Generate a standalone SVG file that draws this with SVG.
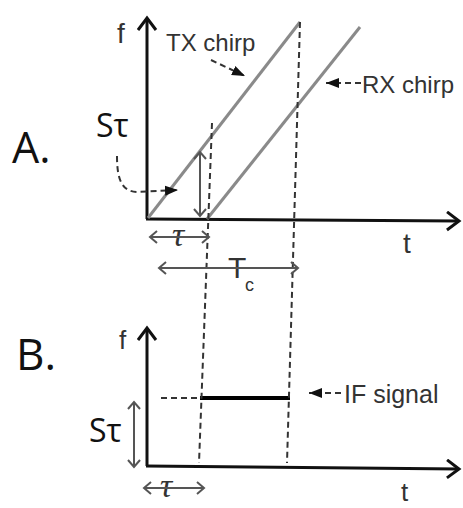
<svg xmlns="http://www.w3.org/2000/svg" width="463" height="508" viewBox="0 0 463 508">
<style>
.axis{stroke:#111;stroke-width:3;fill:none}
.chirp{stroke:#8a8a8a;stroke-width:3;fill:none}
.dash{stroke:#333;stroke-width:2;stroke-dasharray:6,4;fill:none}
.dim{stroke:#555;stroke-width:2;fill:none}
.lbl{font-family:"Liberation Sans",Arial,sans-serif;fill:#333}
.big{font-family:"Open Sans","Liberation Sans",sans-serif;fill:#111}
.tau{font-family:"Liberation Serif","DejaVu Serif",serif;font-style:italic;fill:#333}
.if{stroke:#000;stroke-width:4;fill:none}
</style>
<defs>
<marker id="ax" markerUnits="userSpaceOnUse" markerWidth="16" markerHeight="22" refX="13" refY="10" orient="auto">
<path d="M1,1 L13,10 L1,19" fill="none" stroke="#111" stroke-width="3"/>
</marker>
<marker id="ch" markerUnits="userSpaceOnUse" markerWidth="10" markerHeight="14" refX="8" refY="7" orient="auto-start-reverse">
<path d="M1,1 L8,7 L1,13" fill="none" stroke="#555" stroke-width="2"/>
</marker>
<marker id="fill" markerUnits="userSpaceOnUse" markerWidth="14" markerHeight="12" refX="13" refY="6" orient="auto">
<path d="M0,1 L13,6 L0,11 z" fill="#111"/>
</marker>
</defs>

<g id="panelA">
<g id="labelA"><text class="big" x="12" y="163" font-size="43">A.</text></g>
<g id="axesA">
<line class="axis" x1="147" y1="219" x2="147" y2="18" marker-end="url(#ax)"/>
<line class="axis" x1="146" y1="219" x2="459" y2="221" marker-end="url(#ax)"/>
<text class="lbl" x="117" y="43" font-size="28" fill="#222">f</text>
<text class="lbl" x="403" y="253" font-size="28" fill="#222">t</text>
</g>
<g id="txchirp">
<line class="chirp" x1="148" y1="218" x2="300" y2="22"/>
<text class="lbl" x="166" y="51" font-size="24">TX chirp</text>
</g>
<g id="rxchirp">
<line class="chirp" x1="207" y1="219" x2="360" y2="27"/>
<text class="lbl" x="362" y="93" font-size="24">RX chirp</text>
</g>
<g id="stauA">
<text class="big" x="96" y="137" font-size="32">Sτ</text>
</g>
<g id="tauA">
<text class="tau" x="172" y="246" font-size="34">τ</text>
</g>
<g id="TcA">
<text class="lbl" x="228" y="278" font-size="30" fill="#222">T</text>
<text class="lbl" x="245" y="291" font-size="18" fill="#222">c</text>
</g>
</g>

<g id="panelB">
<g id="labelB"><text class="big" x="16" y="370" font-size="44">B.</text></g>
<g id="axesB">
<line class="axis" x1="147" y1="466" x2="147" y2="328" marker-end="url(#ax)"/>
<line class="axis" x1="146" y1="466" x2="459" y2="469" marker-end="url(#ax)"/>
<text class="lbl" x="119" y="349" font-size="26" fill="#222">f</text>
<text class="lbl" x="401" y="501" font-size="26" fill="#222">t</text>
</g>
<g id="ifsignal">
<line class="if" x1="200" y1="398" x2="290" y2="398"/>
<text class="lbl" x="344" y="403" font-size="25">IF signal</text>
</g>
<g id="stauB">
<text class="big" x="89" y="442" font-size="32">Sτ</text>
</g>
<g id="tauB">
<text class="tau" x="160" y="497" font-size="34">τ</text>
</g>
</g>

<g id="connectors">
<line class="dash" x1="300" y1="22" x2="287" y2="463"/>
<line class="dash" x1="212" y1="123" x2="199" y2="463"/>
<line class="dim" x1="200" y1="152" x2="200" y2="216" marker-start="url(#ch)" marker-end="url(#ch)"/>
<path class="dash" d="M117,156 C117,180 122,192 138,192 L178,190" marker-end="url(#fill)"/>
<path class="dash" d="M211,60 L245,76" marker-end="url(#fill)"/>
<path class="dash" d="M361,83 L326,83" marker-end="url(#fill)"/>
<line class="dim" x1="150" y1="237" x2="209" y2="237" marker-start="url(#ch)" marker-end="url(#ch)"/>
<line class="dim" x1="159" y1="268" x2="298" y2="268" marker-start="url(#ch)" marker-end="url(#ch)"/>
<line class="dash" x1="161" y1="398" x2="199" y2="398"/>
<path class="dash" d="M341,393 L309,393" marker-end="url(#fill)"/>
<line class="dim" x1="134" y1="402" x2="134" y2="467" marker-start="url(#ch)" marker-end="url(#ch)"/>
<line class="dim" x1="144" y1="488" x2="204" y2="488" marker-start="url(#ch)" marker-end="url(#ch)"/>
</g>
</svg>
